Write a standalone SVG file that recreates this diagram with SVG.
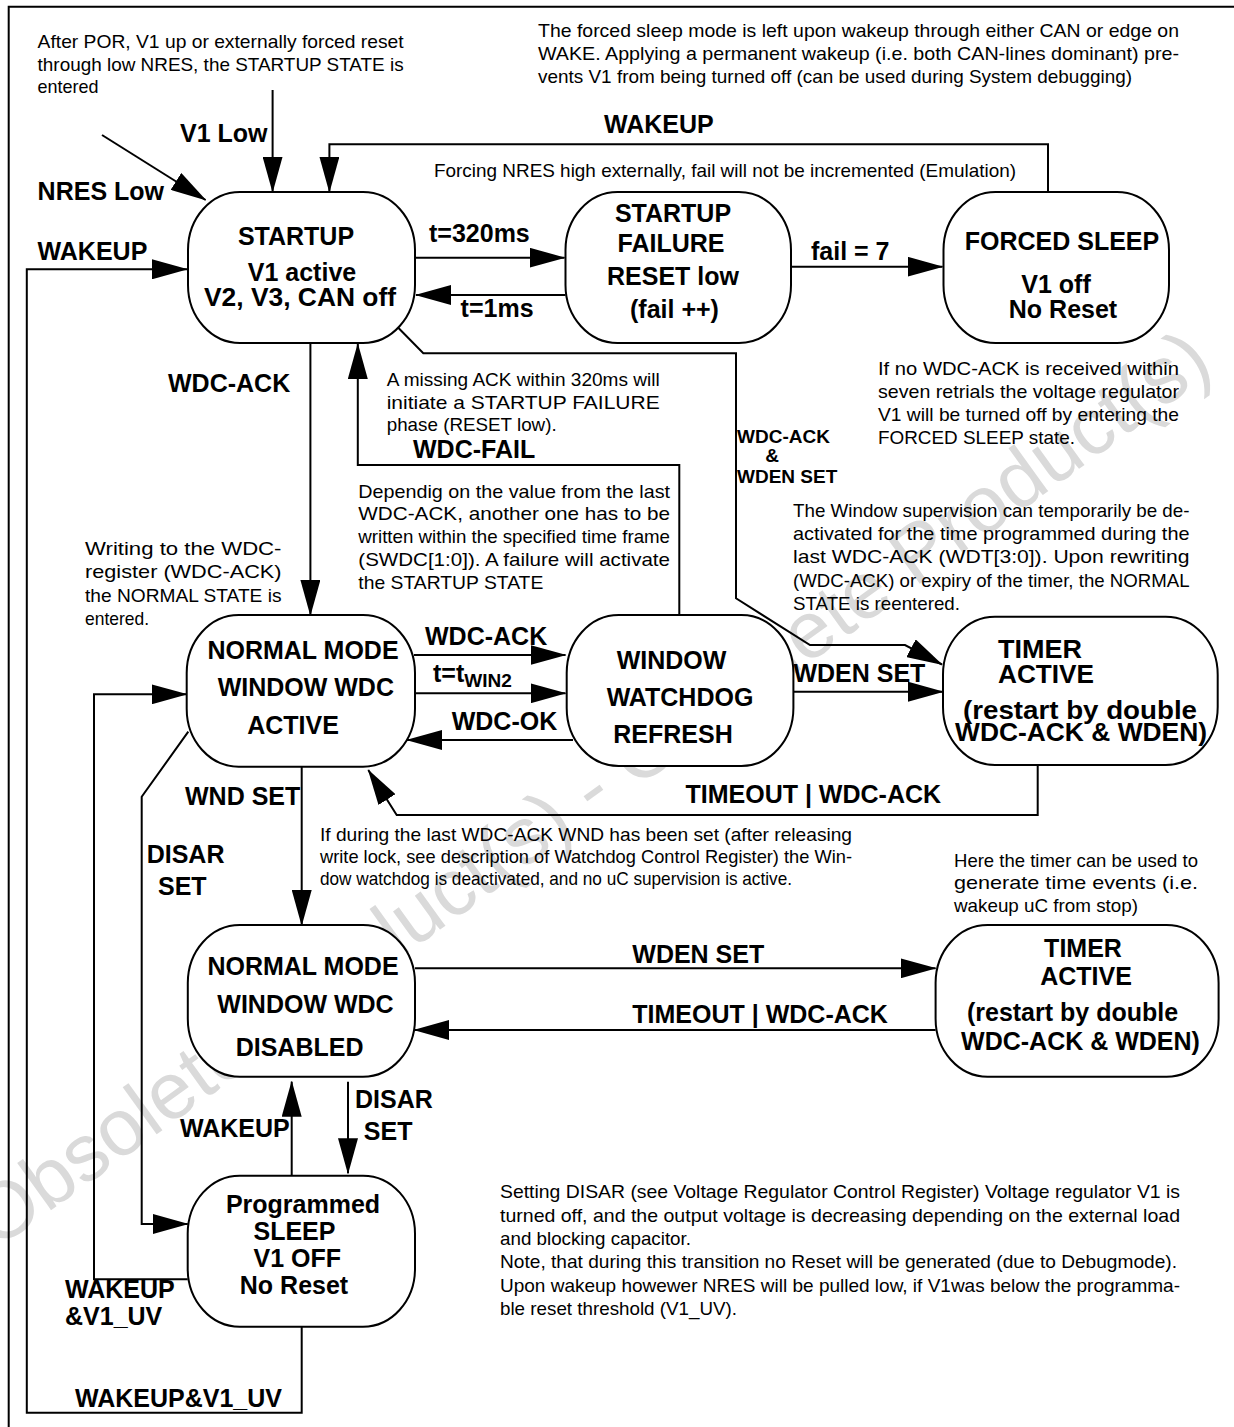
<svg xmlns="http://www.w3.org/2000/svg" width="1234" height="1427" viewBox="0 0 1234 1427">
<defs>
<style>
.n{fill:#fff;stroke:#000;stroke-width:2}
.c{fill:none;stroke:#000;stroke-width:2}
.c2{fill:none;stroke:#000;stroke-width:2;marker-end:url(#ah)}
.b{font-family:"Liberation Sans",Arial,sans-serif;font-weight:bold;font-size:25px;fill:#000}
.s{font-size:19px}
.t{font-family:"Liberation Sans",Arial,sans-serif;font-size:19px;fill:#000}
.m{text-anchor:middle}
.wm{font-family:"Liberation Sans",Arial,sans-serif;font-size:80px;fill:#dadada}
</style>
<marker id="ah" markerUnits="userSpaceOnUse" markerWidth="36" markerHeight="20" refX="35" refY="10" orient="auto" viewBox="0 0 36 20"><path d="M0,0 L36,10 L0,20 z" fill="#000"/></marker>
</defs>
<rect x="0" y="0" width="1234" height="1427" fill="#fff"/>
<text class="wm" transform="translate(-4,1250) rotate(-35.8)" textLength="1504" lengthAdjust="spacingAndGlyphs">Obsolete Product(s) - Obsolete Product(s)</text>
<g id="frame"><path class="c" d="M8.7,1427 V6.7 H1234"/></g>

<g id="connectors">
<path class="c2" d="M272.6,90 V191.7"/>
<path class="c2" d="M102,135 L205.6,200"/>
<path class="c2" d="M1048,191.7 V144.3 H329.4 V191.7"/>
<path class="c2" d="M301.7,1326.7 V1412.7 H26.8 V269.3 H187"/>
<path class="c2" d="M415,257.7 H564.5"/>
<path class="c2" d="M565.5,295 H416"/>
<path class="c2" d="M791,266.7 H942.5"/>
<path class="c2" d="M310.4,343 V615"/>
<path class="c2" d="M679.3,615 V465 H357.8 V344"/>
<path class="c2" d="M398,327.5 L423.3,353.3 H736 V598.3 L810,645 H905 L942,664.5"/>
<path class="c2" d="M414,655 H565.5"/>
<path class="c2" d="M414,693.3 H565.5"/>
<path class="c2" d="M573,740 H407"/>
<path class="c2" d="M793.4,691.7 H943"/>
<path class="c2" d="M1037.7,765 V815 H396.7 L368.3,770"/>
<path class="c2" d="M301.7,766.7 V925"/>
<path class="c2" d="M188.3,731.7 L141.7,796.7 V1224 H187.7"/>
<path class="c2" d="M187.7,1279.3 H94 V694.3 H186.7"/>
<path class="c2" d="M415,968.3 H935.6"/>
<path class="c2" d="M935.6,1030 H414.4"/>
<path class="c2" d="M291.7,1175.7 V1081.7"/>
<path class="c2" d="M348,1081.7 V1173.3"/>
</g>

<g id="edge-labels">
<text class="b" x="180" y="142">V1 Low</text>
<text class="b" x="37.6" y="200">NRES Low</text>
<text class="b" x="604" y="133">WAKEUP</text>
<text class="b" x="37.6" y="260">WAKEUP</text>
<text class="b" x="429" y="242">t=320ms</text>
<text class="b" x="460.6" y="317">t=1ms</text>
<text class="b" x="811" y="260">fail = 7</text>
<text class="b" x="168" y="392">WDC-ACK</text>
<text class="b" x="413" y="458">WDC-FAIL</text>
<text class="b s" x="737" y="443">WDC-ACK</text>
<text class="b s m" x="772" y="462">&amp;</text>
<text class="b s" x="737" y="483">WDEN SET</text>
<text class="b" x="425" y="645">WDC-ACK</text>
<text class="b" x="433" y="682">t=t<tspan font-size="19" dy="5">WIN2</tspan></text>
<text class="b" x="451.7" y="730">WDC-OK</text>
<text class="b" x="793.4" y="682">WDEN SET</text>
<text class="b" x="685.5" y="803">TIMEOUT | WDC-ACK</text>
<text class="b" x="185" y="805">WND SET</text>
<text class="b" x="146.7" y="863">DISAR</text>
<text class="b" x="158" y="895">SET</text>
<text class="b" x="632.3" y="963">WDEN SET</text>
<text class="b" x="632.3" y="1023">TIMEOUT | WDC-ACK</text>
<text class="b" x="180" y="1137">WAKEUP</text>
<text class="b" x="355" y="1108">DISAR</text>
<text class="b" x="363.8" y="1140">SET</text>
<text class="b" x="65" y="1298">WAKEUP</text>
<text class="b" x="65" y="1325">&amp;V1_UV</text>
<text class="b" x="75" y="1407">WAKEUP&amp;V1_UV</text>
</g>

<g id="startup">
<rect class="n" x="188" y="192" width="227" height="151" rx="52" ry="58"/>
<text class="b m" x="296" y="245">STARTUP</text>
<text class="b m" x="302" y="281">V1 active</text>
<text class="b m" x="300" y="306" textLength="192" lengthAdjust="spacingAndGlyphs">V2, V3, CAN off</text>
</g>
<g id="startup-failure">
<rect class="n" x="565.5" y="192" width="225.5" height="151" rx="52" ry="58"/>
<text class="b m" x="673" y="222">STARTUP</text>
<text class="b m" x="671" y="252">FAILURE</text>
<text class="b m" x="673" y="285">RESET low</text>
<text class="b m" x="674.5" y="318">(fail ++)</text>
</g>
<g id="forced-sleep">
<rect class="n" x="943.5" y="192" width="225.5" height="151" rx="52" ry="58"/>
<text class="b m" x="1062" y="250">FORCED SLEEP</text>
<text class="b m" x="1056" y="293">V1 off</text>
<text class="b m" x="1063" y="318">No Reset</text>
</g>
<g id="normal-active">
<rect class="n" x="186.7" y="615" width="228.3" height="151.7" rx="52" ry="58"/>
<text class="b m" x="303" y="659">NORMAL MODE</text>
<text class="b m" x="305.8" y="696">WINDOW WDC</text>
<text class="b m" x="293" y="734">ACTIVE</text>
</g>
<g id="window-refresh">
<rect class="n" x="566.7" y="615" width="226.7" height="151" rx="52" ry="58"/>
<text class="b m" x="671.5" y="669">WINDOW</text>
<text class="b m" x="680" y="706">WATCHDOG</text>
<text class="b m" x="673" y="743">REFRESH</text>
</g>
<g id="timer-active-1">
<rect class="n" x="943" y="616.7" width="274.7" height="148.3" rx="52" ry="58"/>
<text class="b m" x="1040" y="658" textLength="84" lengthAdjust="spacingAndGlyphs">TIMER</text>
<text class="b m" x="1046" y="683" textLength="96" lengthAdjust="spacingAndGlyphs">ACTIVE</text>
<text class="b m" x="1080" y="719" textLength="234" lengthAdjust="spacingAndGlyphs">(restart by double</text>
<text class="b m" x="1081" y="741" textLength="252" lengthAdjust="spacingAndGlyphs">WDC-ACK &amp; WDEN)</text>
</g>
<g id="normal-disabled">
<rect class="n" x="187.8" y="925" width="227.2" height="151.7" rx="52" ry="58"/>
<text class="b m" x="303" y="975">NORMAL MODE</text>
<text class="b m" x="305.5" y="1013">WINDOW WDC</text>
<text class="b m" x="299.6" y="1056">DISABLED</text>
</g>
<g id="timer-active-2">
<rect class="n" x="935.6" y="925" width="283" height="151.7" rx="52" ry="58"/>
<text class="b m" x="1083" y="957">TIMER</text>
<text class="b m" x="1086" y="985">ACTIVE</text>
<text class="b m" x="1072.5" y="1021">(restart by double</text>
<text class="b m" x="1080.5" y="1050">WDC-ACK &amp; WDEN)</text>
</g>
<g id="programmed-sleep">
<rect class="n" x="187.7" y="1175.7" width="227.3" height="151" rx="52" ry="58"/>
<text class="b m" x="303" y="1213">Programmed</text>
<text class="b m" x="294.5" y="1240">SLEEP</text>
<text class="b m" x="297.3" y="1267">V1 OFF</text>
<text class="b m" x="294" y="1294">No Reset</text>
</g>

<g id="notes">
<text class="t" x="37.6" y="48" textLength="366" lengthAdjust="spacingAndGlyphs">After POR, V1 up or externally forced reset</text>
<text class="t" x="37.6" y="71" textLength="366" lengthAdjust="spacingAndGlyphs">through low NRES, the STARTUP STATE is</text>
<text class="t" x="37.6" y="93" textLength="61" lengthAdjust="spacingAndGlyphs">entered</text>

<text class="t" x="538" y="37" textLength="641" lengthAdjust="spacingAndGlyphs">The forced sleep mode is left upon wakeup through either CAN or edge on</text>
<text class="t" x="538" y="60" textLength="641" lengthAdjust="spacingAndGlyphs">WAKE. Applying a permanent wakeup (i.e. both CAN-lines dominant) pre-</text>
<text class="t" x="538" y="83" textLength="594" lengthAdjust="spacingAndGlyphs">vents V1 from being turned off (can be used during System debugging)</text>

<text class="t" x="434" y="177" textLength="582" lengthAdjust="spacingAndGlyphs">Forcing NRES high externally, fail will not be incremented (Emulation)</text>

<text class="t" x="386.7" y="386" textLength="273" lengthAdjust="spacingAndGlyphs">A missing ACK within 320ms will</text>
<text class="t" x="386.7" y="409" textLength="273" lengthAdjust="spacingAndGlyphs">initiate a STARTUP FAILURE</text>
<text class="t" x="386.7" y="431" textLength="170" lengthAdjust="spacingAndGlyphs">phase (RESET low).</text>

<text class="t" x="358.3" y="498" textLength="311.7" lengthAdjust="spacingAndGlyphs">Dependig on the value from the last</text>
<text class="t" x="358.3" y="520" textLength="311.7" lengthAdjust="spacingAndGlyphs">WDC-ACK, another one has to be</text>
<text class="t" x="358.3" y="543" textLength="311.7" lengthAdjust="spacingAndGlyphs">written within the specified time frame</text>
<text class="t" x="358.3" y="566" textLength="311.7" lengthAdjust="spacingAndGlyphs">(SWDC[1:0]). A failure will activate</text>
<text class="t" x="358.3" y="589" textLength="185" lengthAdjust="spacingAndGlyphs">the STARTUP STATE</text>

<text class="t" x="85" y="555" textLength="196.5" lengthAdjust="spacingAndGlyphs">Writing to the WDC-</text>
<text class="t" x="85" y="578" textLength="196.5" lengthAdjust="spacingAndGlyphs">register (WDC-ACK)</text>
<text class="t" x="85" y="601.7" textLength="196.5" lengthAdjust="spacingAndGlyphs">the NORMAL STATE is</text>
<text class="t" x="85" y="625" textLength="64" lengthAdjust="spacingAndGlyphs">entered.</text>

<text class="t" x="878" y="375" textLength="301" lengthAdjust="spacingAndGlyphs">If no WDC-ACK is received within</text>
<text class="t" x="878" y="398" textLength="301" lengthAdjust="spacingAndGlyphs">seven retrials the voltage regulator</text>
<text class="t" x="878" y="421" textLength="301" lengthAdjust="spacingAndGlyphs">V1 will be turned off by entering the</text>
<text class="t" x="878" y="444" textLength="197" lengthAdjust="spacingAndGlyphs">FORCED SLEEP state.</text>

<text class="t" x="793" y="517" textLength="396.5" lengthAdjust="spacingAndGlyphs">The Window supervision can temporarily be de-</text>
<text class="t" x="793" y="540" textLength="396.5" lengthAdjust="spacingAndGlyphs">activated for the time programmed during the</text>
<text class="t" x="793" y="563" textLength="396.5" lengthAdjust="spacingAndGlyphs">last WDC-ACK (WDT[3:0]). Upon rewriting</text>
<text class="t" x="793" y="587" textLength="396.5" lengthAdjust="spacingAndGlyphs">(WDC-ACK) or expiry of the timer, the NORMAL</text>
<text class="t" x="793" y="610" textLength="167" lengthAdjust="spacingAndGlyphs">STATE is reentered.</text>

<text class="t" x="320" y="841" textLength="532" lengthAdjust="spacingAndGlyphs">If during the last WDC-ACK WND has been set (after releasing</text>
<text class="t" x="320" y="863" textLength="532" lengthAdjust="spacingAndGlyphs">write lock, see description of Watchdog Control Register) the Win-</text>
<text class="t" x="320" y="885" textLength="472" lengthAdjust="spacingAndGlyphs">dow watchdog is deactivated, and no uC supervision is active.</text>

<text class="t" x="954" y="867" textLength="244" lengthAdjust="spacingAndGlyphs">Here the timer can be used to</text>
<text class="t" x="954" y="889" textLength="244" lengthAdjust="spacingAndGlyphs">generate time events (i.e.</text>
<text class="t" x="954" y="912" textLength="184" lengthAdjust="spacingAndGlyphs">wakeup uC from stop)</text>

<text class="t" x="500" y="1198" textLength="680" lengthAdjust="spacingAndGlyphs">Setting DISAR (see Voltage Regulator Control Register) Voltage regulator V1 is</text>
<text class="t" x="500" y="1222" textLength="680" lengthAdjust="spacingAndGlyphs">turned off, and the output voltage is decreasing depending on the external load</text>
<text class="t" x="500" y="1245" textLength="191" lengthAdjust="spacingAndGlyphs">and blocking capacitor.</text>
<text class="t" x="500" y="1268" textLength="677" lengthAdjust="spacingAndGlyphs">Note, that during this transition no Reset will be generated (due to Debugmode).</text>
<text class="t" x="500" y="1292" textLength="680" lengthAdjust="spacingAndGlyphs">Upon wakeup howewer NRES will be pulled low, if V1was below the programma-</text>
<text class="t" x="500" y="1315" textLength="237" lengthAdjust="spacingAndGlyphs">ble reset threshold (V1_UV).</text>
</g>
</svg>
